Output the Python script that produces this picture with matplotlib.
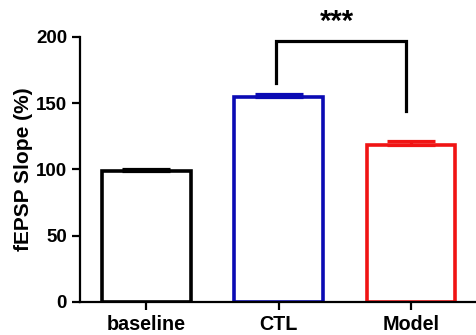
import matplotlib.pyplot as plt

plt.rcParams["font.family"] = ["Liberation Sans", "DejaVu Sans"]
plt.rcParams["font.weight"] = "bold"

groups = ["baseline", "CTL", "Model"]
means = [98.5, 154.5, 118.5]
sems = [1.8, 2.4, 2.6]
edge_colors = ["#000000", "#0a0ab4", "#f01414"]

# significance bracket between CTL and Model
bracket_top = 196.5
bracket_left_foot = 165
bracket_right_foot = 144
sig_label = "***"

fig = plt.figure(figsize=(4.76, 3.35), dpi=100)
ax = fig.add_axes([0.168, 0.099, 0.832, 0.791])

x = list(range(len(groups)))
ax.bar(x, means, width=0.67, color="white", edgecolor=edge_colors,
       linewidth=2.6, zorder=2)
for xi, m, s, c in zip(x, means, sems, edge_colors):
    ax.errorbar(xi, m, yerr=[[0], [s]], color=c, capsize=17, capthick=2.3,
                elinewidth=2.3, fmt="none", zorder=3)

ax.plot([1 - 0.02, 1 - 0.02, 2 - 0.04, 2 - 0.04],
        [bracket_left_foot, bracket_top, bracket_top, bracket_right_foot],
        color="black", lw=2.3, clip_on=False, solid_joinstyle="miter")
ax.text(1.44, 201, sig_label, ha="center", va="bottom", fontsize=21,
        fontweight="bold", clip_on=False)

ax.set_xlim(-0.5, 2.49)
ax.set_ylim(0, 200)
ax.set_yticks([0, 50, 100, 150, 200])
ax.set_xticks(x)
ax.set_xticklabels(groups, fontsize=14.2, fontweight="bold")
ax.tick_params(axis="y", labelsize=13.5, width=1.6, length=5.8)
ax.tick_params(axis="x", width=1.6, length=5.8)
ax.set_ylabel("fEPSP Slope (%)", fontsize=15, fontweight="bold", labelpad=2)

for side in ["top", "right"]:
    ax.spines[side].set_visible(False)
for side in ["left", "bottom"]:
    ax.spines[side].set_linewidth(1.6)

fig.savefig("out.png", dpi=100)
